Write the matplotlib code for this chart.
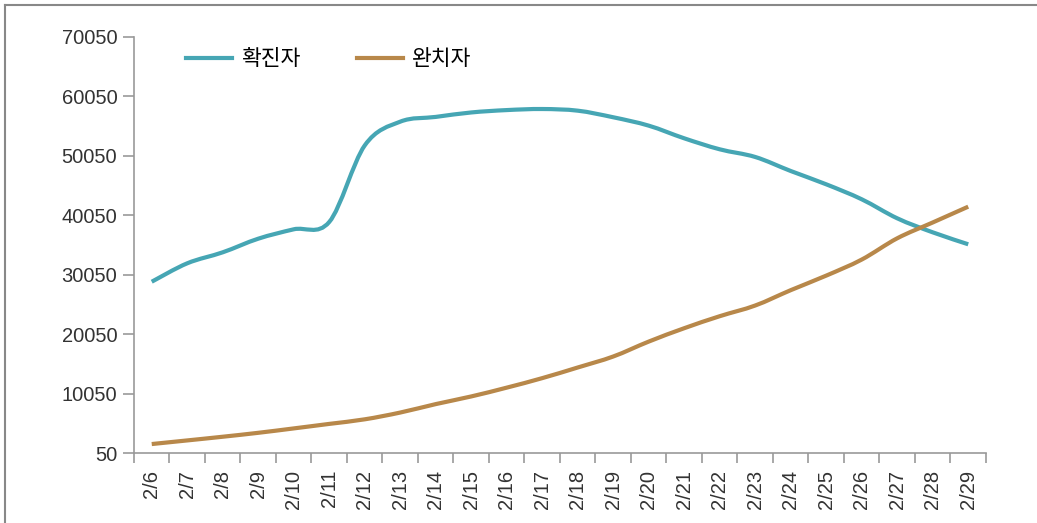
import numpy as np
import matplotlib
matplotlib.use('Agg')
import matplotlib.pyplot as plt
from matplotlib.path import Path
from matplotlib.patches import PathPatch
from matplotlib.lines import Line2D

plt.rcParams['font.family'] = ['Liberation Sans', 'Noto Sans CJK KR']

# dates on the x axis
dates = ['2/6', '2/7', '2/8', '2/9', '2/10', '2/11', '2/12', '2/13', '2/14', '2/15',
         '2/16', '2/17', '2/18', '2/19', '2/20', '2/21', '2/22', '2/23', '2/24', '2/25',
         '2/26', '2/27', '2/28', '2/29']

# 확진자 (confirmed)
confirmed = [28870, 31970, 33820, 36110, 37690, 38920, 51800, 55800, 56600, 57350,
             57750, 57930, 57650, 56540, 55130, 53000, 51150, 49860, 47500, 45260,
             42740, 39540, 37180, 35170]

# 완치자 (recovered)
recovered = [1560, 2170, 2790, 3450, 4190, 4950, 5720, 6860, 8280, 9570,
             11050, 12650, 14440, 16290, 18800, 21050, 23070, 24870, 27450, 29900,
             32600, 36180, 38840, 41500]

yticks = [50, 10050, 20050, 30050, 40050, 50050, 60050, 70050]
labels = ['확진자', '완치자']
colors = ['#46A6B4', '#B8884A']


def smooth_path(x, y):
    """excel style smoothed line as a bezier path (control points from neighbours)"""
    pts = np.column_stack([x, y]).astype(float)
    n = len(pts)
    verts = [pts[0]]
    codes = [Path.MOVETO]
    for i in range(n - 1):
        p0 = pts[i - 1] if i > 0 else pts[i]
        p1 = pts[i]
        p2 = pts[i + 1]
        p3 = pts[i + 2] if i + 2 < n else pts[i + 1]
        c1 = p1 + (p2 - p0) / 6.0
        c2 = p2 - (p3 - p1) / 6.0
        verts += [c1, c2, p2]
        codes += [Path.CURVE4] * 3
    return Path(verts, codes)


fig = plt.figure(figsize=(10.37, 5.23), dpi=100)
ax = fig.add_axes([0.1292, 0.1338, 0.8216, 0.7955])

x = np.arange(len(dates))
for vals, c in zip([confirmed, recovered], colors):
    ax.add_patch(PathPatch(smooth_path(x, vals), fill=False, edgecolor=c,
                           lw=3.0, capstyle='butt', joinstyle='round'))

ax.set_xlim(-0.5, len(dates) - 0.5)
ax.set_ylim(50, 70050)
ax.set_yticks(yticks)
ax.set_yticklabels([str(v) for v in yticks])

ax.set_xticks(x)
ax.set_xticklabels(dates, rotation=90)
ax.set_xticks(np.arange(-0.5, len(dates), 1), minor=True)
ax.tick_params(axis='x', which='major', length=0, pad=12, labelsize=14.5, labelcolor='#333333')
ax.tick_params(axis='x', which='minor', length=7, width=1.2, color='#999999')
ax.tick_params(axis='y', length=8, width=1.2, color='#999999', pad=4, labelsize=14.5,
               labelcolor='#333333')

for s in ['top', 'right']:
    ax.spines[s].set_visible(False)
for s in ['left', 'bottom']:
    ax.spines[s].set_color('#999999')
    ax.spines[s].set_linewidth(1.2)

handles = [Line2D([], [], color=c, lw=3.0) for c in colors]
ax.legend(handles, labels, loc='center left', bbox_to_anchor=(0.061, 0.945),
          ncol=2, frameon=False, fontsize=15.5, handlelength=2.15, handletextpad=0.42,
          columnspacing=2.6, borderpad=0, borderaxespad=0)

# outer frame lines (top and left visible in the crop)
fig.add_artist(Line2D([5 / 1037, 1], [1 - 5 / 523, 1 - 5 / 523], color='#888888', lw=1.5))
fig.add_artist(Line2D([5 / 1037, 5 / 1037], [0, 1 - 5 / 523], color='#888888', lw=1.5))

fig.savefig('out.png', dpi=100)
